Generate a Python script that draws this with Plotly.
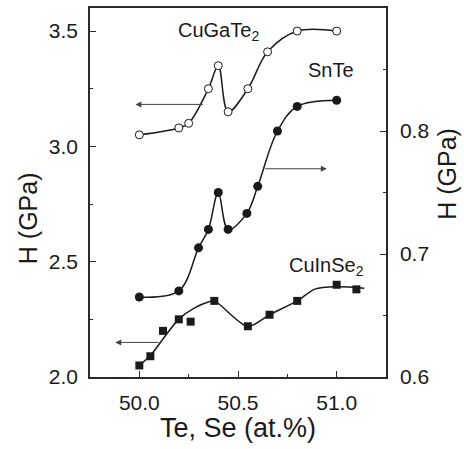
import plotly.graph_objects as go

# ---- data ----
cugate_x = [50.0, 50.2, 50.25, 50.35, 50.40, 50.45, 50.55, 50.65, 50.80, 51.0]
cugate_y = [3.05, 3.08, 3.10, 3.25, 3.35, 3.15, 3.25, 3.41, 3.50, 3.50]

snte_x = [50.0, 50.2, 50.30, 50.35, 50.40, 50.45, 50.545, 50.60, 50.70, 50.80, 51.0]
snte_y = [0.665, 0.670, 0.705, 0.720, 0.750, 0.720, 0.733, 0.755, 0.800, 0.820, 0.825]

cuinse_x = [50.0, 50.056, 50.12, 50.20, 50.26, 50.38, 50.55, 50.66, 50.80, 51.0, 51.10]
cuinse_y = [2.05, 2.09, 2.20, 2.25, 2.24, 2.33, 2.22, 2.27, 2.33, 2.40, 2.38]

# smooth fit line drawn through the CuInSe2 points
cuinse_fit_x = [50.0, 50.056, 50.12, 50.20, 50.28, 50.35, 50.38, 50.55, 50.66, 50.80, 50.89, 51.0, 51.14]
cuinse_fit_y = [2.05, 2.093, 2.165, 2.251, 2.30, 2.325, 2.330, 2.219, 2.270, 2.330, 2.381, 2.391, 2.385]

x_tick_vals = [50.0, 50.5, 51.0]
left_tick_vals = [2.0, 2.5, 3.0, 3.5]
right_tick_vals = [0.6, 0.7, 0.8]

FONT = "Liberation Sans, Arial, sans-serif"
INK = "#1a1a1a"
AX = "#2a2a2a"

fig = go.Figure()

fig.add_trace(go.Scatter(
    x=cugate_x, y=cugate_y, mode="lines+markers",
    line=dict(color=INK, width=1.5, shape="spline", smoothing=1.0),
    marker=dict(symbol="circle", size=8, color="white", line=dict(color=INK, width=1)),
    showlegend=False, yaxis="y"))

fig.add_trace(go.Scatter(
    x=snte_x, y=snte_y, mode="lines+markers",
    line=dict(color=INK, width=1.5, shape="spline", smoothing=1.0),
    marker=dict(symbol="circle", size=9, color=INK),
    showlegend=False, yaxis="y2"))

fig.add_trace(go.Scatter(
    x=cuinse_fit_x, y=cuinse_fit_y, mode="lines",
    line=dict(color=INK, width=1.5, shape="spline", smoothing=0.8),
    showlegend=False, yaxis="y"))

fig.add_trace(go.Scatter(
    x=cuinse_x, y=cuinse_y, mode="markers",
    marker=dict(symbol="square", size=8, color=INK),
    showlegend=False, yaxis="y"))

TF = dict(family=FONT, size=20, color=INK)
XTITLEF = dict(family=FONT, size=27, color=INK)
YTITLEF = dict(family=FONT, size=25, color=INK)

annotations = [
    dict(x=50.40, y=3.496, xref="x", yref="y", text="CuGaTe<sub>2</sub>", showarrow=False,
         font=TF, xanchor="center", yanchor="middle"),
    dict(x=50.97, y=0.850, xref="x", yref="y2", text="SnTe", showarrow=False,
         font=TF, xanchor="center", yanchor="middle"),
    dict(x=50.95, y=2.48, xref="x", yref="y", text="CuInSe<sub>2</sub>", showarrow=False,
         font=TF, xanchor="center", yanchor="middle"),
    # arrows
    dict(x=49.98, y=3.182, ax=50.33, ay=3.182, xref="x", yref="y", axref="x", ayref="y",
         text="", showarrow=True, arrowhead=2, arrowsize=1.2, arrowwidth=1, arrowcolor="#444"),
    dict(x=50.95, y=0.7693, ax=50.63, ay=0.7693, xref="x", yref="y2", axref="x", ayref="y2",
         text="", showarrow=True, arrowhead=2, arrowsize=1.2, arrowwidth=1, arrowcolor="#444"),
    dict(x=49.878, y=2.150, ax=50.106, ay=2.150, xref="x", yref="y", axref="x", ayref="y",
         text="", showarrow=True, arrowhead=2, arrowsize=1.2, arrowwidth=1, arrowcolor="#444"),
    # axis titles
    dict(x=0.5, y=-0.137, xref="paper", yref="paper", text="Te, Se (at.%)", showarrow=False,
         font=XTITLEF, xanchor="center", yanchor="middle"),
    dict(x=-0.21, y=0.43, xref="paper", yref="paper", text="H (GPa)", showarrow=False,
         font=YTITLEF, textangle=-90, xanchor="center", yanchor="middle"),
    dict(x=1.205, y=0.55, xref="paper", yref="paper", text="H (GPa)", showarrow=False,
         font=YTITLEF, textangle=-90, xanchor="center", yanchor="middle"),
]

common_ticks = dict(ticks="inside", ticklen=6, tickwidth=1.2, tickcolor=AX,
                    showline=True, linecolor=AX, linewidth=1.5,
                    showgrid=False, zeroline=False, tickformat=".1f",
                    tickfont=dict(family=FONT, size=21, color=INK))

fig.update_layout(
    width=464, height=449,
    margin=dict(l=90, r=78, t=6, b=72),
    paper_bgcolor="white", plot_bgcolor="white",
    font=dict(family=FONT, size=21, color=INK),
    showlegend=False,
    xaxis=dict(range=[49.75, 51.25], tickvals=x_tick_vals, mirror=True,
               minor=dict(dtick=0.25, tick0=49.75, ticks="inside", ticklen=3, tickwidth=1, tickcolor=AX),
               ticklabelstandoff=6, **common_ticks),
    yaxis=dict(range=[2.0, 3.6], tickvals=left_tick_vals,
               minor=dict(dtick=0.25, tick0=2.0, ticks="inside", ticklen=3, tickwidth=1, tickcolor=AX),
               ticklabelstandoff=6, **common_ticks),
    yaxis2=dict(range=[0.6, 0.9], tickvals=right_tick_vals,
                overlaying="y", side="right",
                minor=dict(dtick=0.05, tick0=0.6, ticks="inside", ticklen=3, tickwidth=1, tickcolor=AX),
                ticklabelstandoff=8, **common_ticks),
    annotations=annotations,
)

fig.write_html("out.html")
